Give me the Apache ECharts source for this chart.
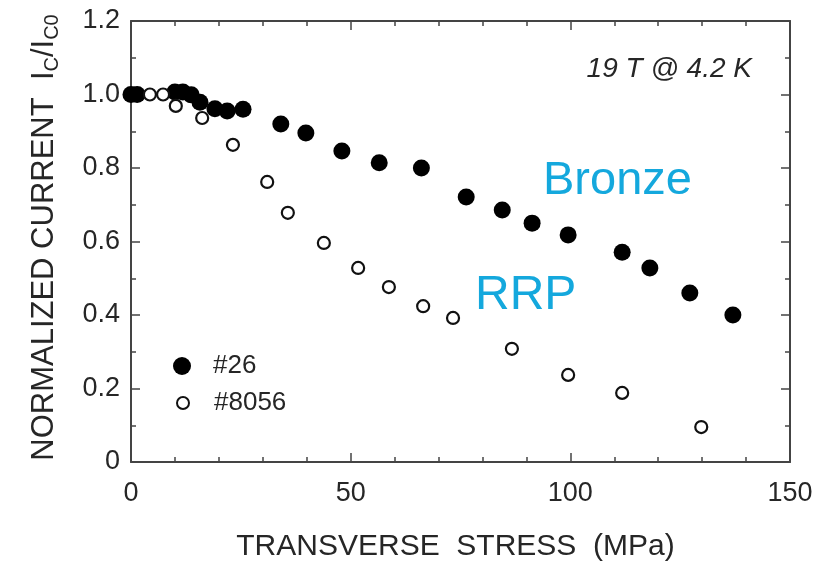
<!DOCTYPE html>
<html>
<head>
<meta charset="utf-8">
<script src="https://cdn.jsdelivr.net/npm/echarts@6/dist/echarts.min.js"></script>
<style>
  html, body { margin: 0; padding: 0; background: #fff; }
  #chart { width: 815px; height: 563px; }
</style>
</head>
<body>
<div id="chart"></div>
<script>
// Transverse stress (MPa) vs normalized critical current, 19 T at 4.2 K
const stressBronze = [0, 1.4, 10.0, 11.8, 13.7, 15.7, 19.1, 21.9, 25.5, 34.1, 39.8, 48.0, 56.5, 66.1, 76.3, 84.5, 91.3, 99.5, 111.8, 118.1, 127.2, 137.0];
const icBronze     = [1.0, 1.0, 1.007, 1.007, 0.999, 0.979, 0.961, 0.955, 0.96, 0.92, 0.895, 0.846, 0.814, 0.80, 0.721, 0.686, 0.650, 0.618, 0.571, 0.528, 0.46, 0.40];

const stressRRP = [4.3, 7.3, 10.2, 16.2, 23.2, 31.0, 35.7, 43.9, 51.7, 58.7, 66.5, 73.3, 86.7, 99.5, 111.8, 129.8];
const icRRP     = [1.0, 1.0, 0.969, 0.936, 0.863, 0.762, 0.678, 0.596, 0.528, 0.476, 0.424, 0.392, 0.308, 0.237, 0.188, 0.095];

const seriesNames = ['#26', '#8056'];
const xTicks = [0, 50, 100, 150];
const yTicks = [0, 0.2, 0.4, 0.6, 0.8, 1.0, 1.2];

const pairs = (xs, ys) => xs.map((x, i) => [x, ys[i]]);

const FONT = '"Liberation Sans", Arial, sans-serif';
const INK = '#262626';

const axisCommon = {
  axisLine: { show: true, onZero: false, lineStyle: { color: '#444', width: 2 } },
  axisTick: { show: true, inside: true, length: 9, lineStyle: { color: '#444', width: 1.5 } },
  minorTick: { show: true, length: 5, lineStyle: { color: '#444', width: 1.5 } },
  splitLine: { show: false }
};

const legendText = { fontFamily: FONT, fontSize: 26, color: INK };

const chart = echarts.init(document.getElementById('chart'), null, { renderer: 'canvas' });

chart.setOption({
  animation: false,
  backgroundColor: '#fff',
  grid: { left: 131, right: 25, top: 21, bottom: 101, containLabel: false, outerBoundsMode: 'none' },
  legend: [
    {
      left: 168, top: 348, itemWidth: 18, itemHeight: 18, icon: 'circle',
      data: [seriesNames[0]],
      textStyle: Object.assign({}, legendText, { padding: [0, 0, 0, 17] })
    },
    {
      left: 171, top: 385, itemWidth: 12, itemHeight: 12, icon: 'circle',
      data: [seriesNames[1]],
      textStyle: Object.assign({}, legendText, { padding: [0, 0, 0, 20] })
    }
  ],
  xAxis: [
    Object.assign({}, axisCommon, {
      type: 'value', min: xTicks[0], max: xTicks[xTicks.length - 1], interval: 50,
      minorTick: Object.assign({}, axisCommon.minorTick, { splitNumber: 5 }),
      axisLabel: { fontFamily: FONT, fontSize: 27, color: INK, margin: 18 },
      name: 'TRANSVERSE  STRESS  (MPa)',
      nameLocation: 'middle', nameGap: 70,
      nameTextStyle: { fontFamily: FONT, fontSize: 30, color: INK, padding: [0, 10, 0, 0] }
    }),
    Object.assign({}, axisCommon, {
      type: 'value', position: 'top', min: 0, max: 150, interval: 50,
      minorTick: Object.assign({}, axisCommon.minorTick, { splitNumber: 5 }),
      axisLabel: { show: false }
    })
  ],
  yAxis: [
    Object.assign({}, axisCommon, {
      type: 'value', min: yTicks[0], max: yTicks[yTicks.length - 1], interval: 0.2,
      minorTick: Object.assign({}, axisCommon.minorTick, { splitNumber: 2 }),
      axisLabel: {
        fontFamily: FONT, fontSize: 27, color: INK, margin: 11,
        formatter: v => (v === 0 ? '0' : v.toFixed(1))
      },
      name: '{m|NORMALIZED CURRENT  I}{s|C}{m|/I}{s|C0}',
      nameLocation: 'middle', nameGap: 69,
      nameTextStyle: {
        padding: [0, 0, 0, 8],
        rich: {
          m: { fontFamily: FONT, fontSize: 31, color: INK, lineHeight: 36, verticalAlign: 'middle' },
          s: { fontFamily: FONT, fontSize: 20, color: INK, lineHeight: 36, verticalAlign: 'bottom', padding: [12, 0, 0, 0] }
        }
      }
    }),
    Object.assign({}, axisCommon, {
      type: 'value', position: 'right', min: 0, max: 1.2, interval: 0.2,
      minorTick: Object.assign({}, axisCommon.minorTick, { splitNumber: 2 }),
      axisLabel: { show: false }
    })
  ],
  series: [
    {
      name: seriesNames[0],
      type: 'scatter',
      data: pairs(stressBronze, icBronze),
      symbol: 'circle',
      symbolSize: 17,
      itemStyle: { color: '#000', borderColor: '#000', borderWidth: 0, opacity: 1 },
      z: 3
    },
    {
      name: seriesNames[1],
      type: 'scatter',
      data: pairs(stressRRP, icRRP),
      symbol: 'circle',
      symbolSize: 12,
      itemStyle: { color: '#fff', borderColor: '#111', borderWidth: 2.2, opacity: 1 },
      z: 4
    }
  ],
  graphic: [
    {
      type: 'text', right: 63, top: 55,
      style: { text: '19 T @ 4.2 K', font: 'italic 28px "Liberation Sans", Arial, sans-serif', fill: INK }
    },
    {
      type: 'text', left: 543, top: 158,
      style: { text: 'Bronze', font: '47px "Liberation Sans", Arial, sans-serif', fill: '#14a8dd' }
    },
    {
      type: 'text', left: 475, top: 272,
      style: { text: 'RRP', font: '48px "Liberation Sans", Arial, sans-serif', fill: '#14a8dd' }
    }
  ]
});
</script>
</body>
</html>
